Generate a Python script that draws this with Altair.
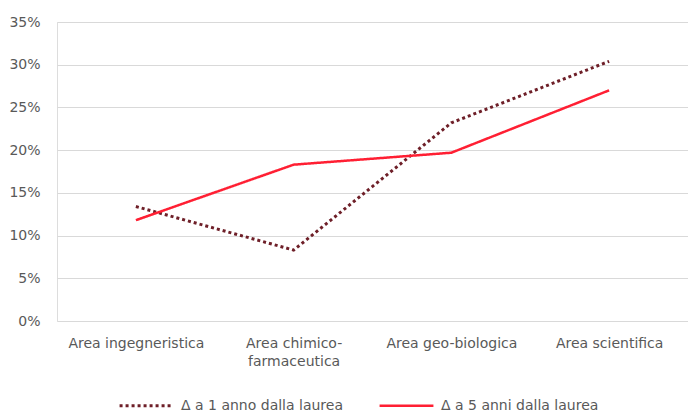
import altair as alt
import pandas as pd

categories = [
    "Area ingegneristica",
    "Area chimico-farmaceutica",
    "Area geo-biologica",
    "Area scientifica",
]
series_names = ["Δ a 1 anno dalla laurea", "Δ a 5 anni dalla laurea"]
one_year = [13.4, 8.3, 23.2, 30.4]
five_years = [11.8, 18.3, 19.7, 27.0]
y_ticks = [0, 5, 10, 15, 20, 25, 30, 35]

rows = []
for cat, v in zip(categories, one_year):
    rows.append({"area": cat, "serie": series_names[0], "valore": v})
for cat, v in zip(categories, five_years):
    rows.append({"area": cat, "serie": series_names[1], "valore": v})
df = pd.DataFrame(rows)

FONT = "DejaVu Sans"
TEXT = "#595959"
SIZE = 14

chart = (
    alt.Chart(df)
    .mark_line(strokeCap="butt")
    .encode(
        x=alt.X(
            "area:N",
            sort=categories,
            scale=alt.Scale(type="point", padding=0.5),
            axis=alt.Axis(
                title=None,
                labelAngle=0,
                domain=False,
                ticks=False,
                grid=False,
                labelPadding=15,
                labelFontSize=SIZE,
                labelColor=TEXT,
                labelFont=FONT,
                labelLineHeight=18,
                labelExpr="datum.label == 'Area chimico-farmaceutica' ? ['Area chimico-', 'farmaceutica'] : datum.label",
            ),
        ),
        y=alt.Y(
            "valore:Q",
            scale=alt.Scale(domain=[0, 35], nice=False),
            axis=alt.Axis(
                title=None,
                values=y_ticks,
                labelExpr="datum.value + '%'",
                domain=False,
                ticks=False,
                gridColor="#d9d9d9",
                gridWidth=1,
                labelPadding=17,
                labelFontSize=SIZE,
                labelColor=TEXT,
                labelFont=FONT,
            ),
        ),
        color=alt.Color(
            "serie:N",
            sort=series_names,
            scale=alt.Scale(domain=series_names, range=["#6e1f28", "#ff1f33"]),
            legend=alt.Legend(
                title=None,
                orient="none",
                direction="horizontal",
                legendX=61,
                legendY=355,
                symbolType="stroke",
                symbolSize=2900,
                symbolStrokeWidth=3,
                labelFontSize=SIZE,
                labelColor=TEXT,
                labelFont=FONT,
                labelOffset=6,
                labelLimit=300,
                columnPadding=30,
                padding=0,
            ),
        ),
        strokeDash=alt.StrokeDash(
            "serie:N",
            sort=series_names,
            scale=alt.Scale(domain=series_names, range=[[3, 3], [1, 0]]),
            legend=None,
        ),
        strokeWidth=alt.StrokeWidth(
            "serie:N",
            scale=alt.Scale(domain=series_names, range=[3, 2.5]),
            legend=None,
        ),
    )
    .properties(
        width=631,
        height=299,
        padding={"left": 57, "top": 22, "right": 0, "bottom": 93},
        autosize=alt.AutoSizeParams(type="none"),
    )
    .configure_view(stroke=None)
    .configure(background="white")
)

chart.save("out.html", embed_options={"renderer": "svg", "actions": False})
